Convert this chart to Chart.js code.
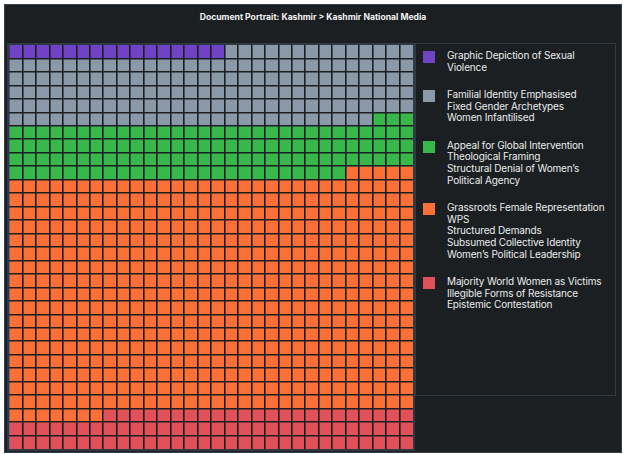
<!DOCTYPE html>
<html>
<head>
<meta charset="utf-8">
<script src="https://cdn.jsdelivr.net/npm/chart.js@4"></script>
<style>
  body { margin: 0; background: #ffffff; font-family: Inter, "Noto Sans", sans-serif; }
  #panel { position: absolute; left: 4px; top: 4px; width: 616px; height: 447px; background: #1b1f22; border: 1px solid #3a4046; }
  #title { position: absolute; left: 0; right: 0; top: 7px; text-align: center; color: #f2f2f2; font-weight: 700; font-size: 8.6px; }
  #frame { position: absolute; left: 2px; top: 38px; width: 404px; height: 404px; border: 2px solid #2e3944; }
  #frame canvas { display: block; }
  #legend { position: absolute; left: 410px; top: 38px; width: 199px; height: 351px; border: 1.5px solid #2f3a45; color: #ececec; font-size: 10px; line-height: 11.7px; letter-spacing: -0.15px; }
  .item { position: relative; padding-left: 31px; margin-top: 15.5px; }
  .item:first-child { margin-top: 6px; }
  .sw { position: absolute; left: 7px; top: 1px; width: 12px; height: 12px; }
</style>
</head>
<body>
<div id="panel">
  <div id="title">Document Portrait: Kashmir &gt; Kashmir National Media</div>
  <div id="frame"><canvas id="waffle" width="404" height="404"></canvas></div>
  <div id="legend"></div>
</div>
<script>
// legend lines for each group
const categories = [
    ['Graphic Depiction of Sexual', 'Violence'],
    ['Familial Identity Emphasised', 'Fixed Gender Archetypes', 'Women Infantilised'],
    ['Appeal for Global Intervention', 'Theological Framing', 'Structural Denial of Women\u2019s', 'Political Agency'],
    ['Grassroots Female Representation', 'WPS', 'Structured Demands', 'Subsumed Collective Identity', 'Women\u2019s Political Leadership'],
    ['Majority World Women as Victims', 'Illegible Forms of Resistance', 'Epistemic Contestation']
];
// number of squares per group (30 x 30 grid)
const cellCounts = [16, 161, 118, 522, 83];
const colors = ['#6f42c6', '#8a99a7', '#38b84b', '#fc6f37', '#e2505a'];
const columns = 30;
const rows = 30;

const rowLabels = Array.from({length: rows}, (_, i) => 'Row ' + (i + 1));

// fill the grid row by row, left to right
const datasets = categories.map((lines, k) => ({
    label: lines.join(' / '),
    data: new Array(rows).fill(0),
    backgroundColor: colors[k],
    borderWidth: 0,
    barPercentage: 1,
    categoryPercentage: 1
}));
let cell = 0;
cellCounts.forEach((n, k) => {
    for (let j = 0; j < n; j++, cell++) {
        datasets[k].data[Math.floor(cell / columns)]++;
    }
});

const cellLine = '#1b1f22';

new Chart(document.getElementById('waffle').getContext('2d'), {
    type: 'bar',
    data: { labels: rowLabels, datasets: datasets },
    options: {
        indexAxis: 'y',
        responsive: false,
        animation: false,
        layout: { padding: 0 },
        plugins: {
            legend: { display: false },
            title: { display: false }
        },
        scales: {
            x: {
                stacked: true,
                min: 0,
                max: columns,
                ticks: { display: false, stepSize: 1 },
                grid: {
                    z: 1,
                    drawTicks: false,
                    tickLength: 0,
                    lineWidth: 1.6,
                    color: (ctx) => (ctx.tick && (ctx.tick.value === 0 || ctx.tick.value === columns)) ? 'transparent' : cellLine
                },
                border: { display: false }
            },
            y: {
                stacked: true,
                ticks: { display: false },
                grid: {
                    z: 1,
                    offset: true,
                    drawTicks: false,
                    tickLength: 0,
                    lineWidth: 1.6,
                    color: (ctx) => (ctx.index === 0 || ctx.tick === undefined) ? 'transparent' : cellLine
                },
                border: { display: false }
            }
        }
    }
});

// legend
const legend = document.getElementById('legend');
legend.innerHTML = categories.map((lines, k) => `
    <div class="item"><span class="sw" style="background:${colors[k]}"></span>${lines.join('<br>')}</div>
`).join('');
</script>
</body>
</html>
